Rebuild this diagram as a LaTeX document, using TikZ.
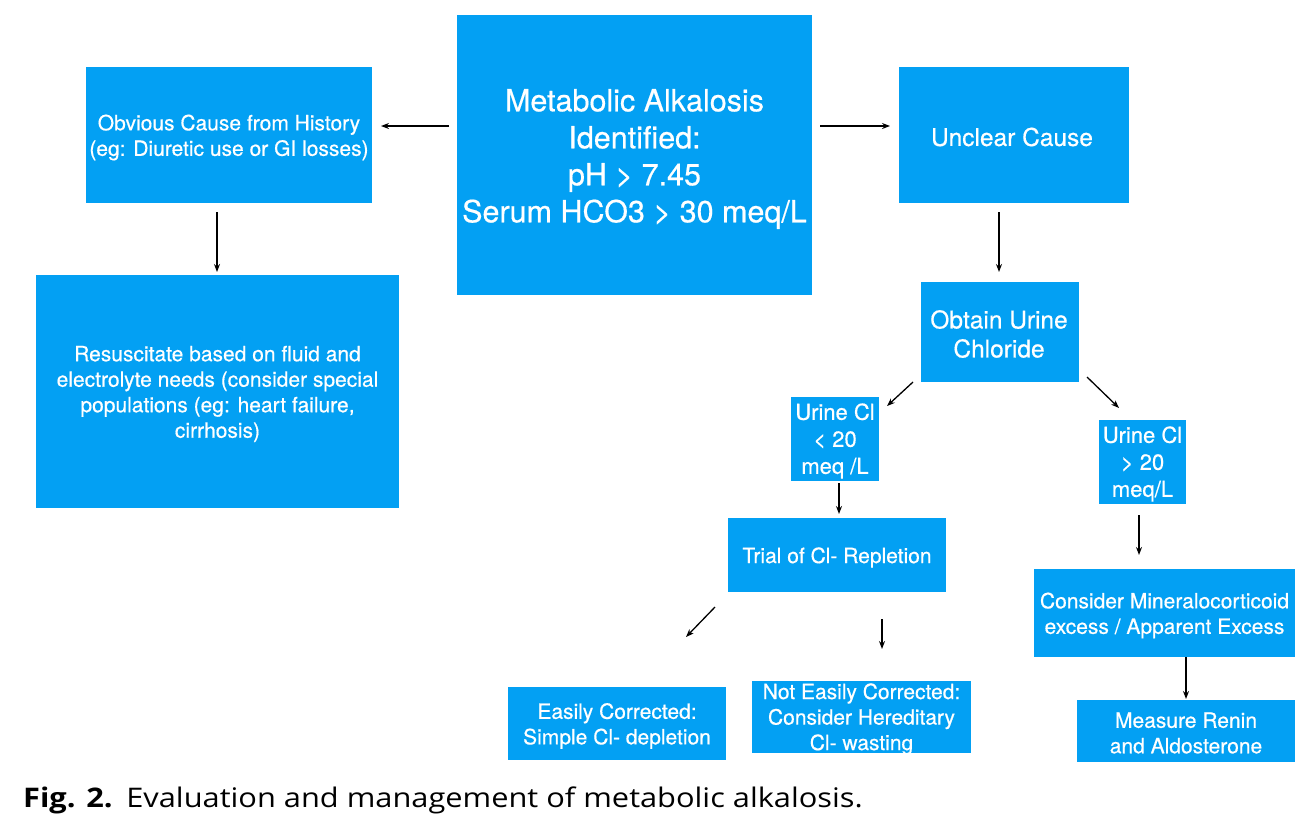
\documentclass[tikz,border=0pt]{standalone}
\usepackage{fontspec}
\setmainfont{TeX Gyre Heros}
\newfontfamily\boxfont{TeX Gyre Heros}[FakeBold=0.5]
\newfontfamily\capfont{Open Sans}
\usetikzlibrary{arrows.meta}
\definecolor{boxblue}{RGB}{3,160,243}
\tikzset{
  box/.style={fill=boxblue, draw=none, inner sep=0pt},
  txt/.style={text=white, align=center, inner sep=0pt},
  small/.style={font=\boxfont\fontsize{21}{25.5}\selectfont},
  mid/.style={font=\boxfont\fontsize{24.5}{29}\selectfont},
  cl/.style={font=\boxfont\fontsize{22}{27}\selectfont},
  big/.style={font=\boxfont\fontsize{30.5}{37}\selectfont},
  arr/.style={line width=1.3pt, -{Stealth[length=8pt,width=6pt]}}
}
\begin{document}
\begin{tikzpicture}[x=1pt,y=-1pt]
\useasboundingbox (0,0) rectangle (1313,831);
\node[box,minimum width=355pt,minimum height=280pt] (main) at (634.5,155) {};
\node[txt,big] (maint) at (634.5,159) {Metabolic Alkalosis\\Identified:\\pH > 7.45\\Serum HCO3 > 30 meq/L};
\node[box,minimum width=286pt,minimum height=136pt] (obv) at (229,135) {};
\node[txt,small] (obvt) at (229,137.5) {Obvious Cause from History\\(eg: Diuretic use or GI losses)};
\node[box,minimum width=363pt,minimum height=233pt] (res) at (217.5,391.5) {};
\node[txt,small] (rest) at (217.5,394) {Resuscitate based on fluid and\\electrolyte needs (consider special\\populations (eg: heart failure,\\cirrhosis)};
\node[box,minimum width=230pt,minimum height=136pt] (unc) at (1014,135) {};
\node[txt,mid] (unct) at (1012,137) {Unclear Cause};
\node[box,minimum width=158pt,minimum height=100pt] (obt) at (1000,332) {};
\node[txt,mid] (obtt) at (999,334) {Obtain Urine\\Chloride};
\node[box,minimum width=88pt,minimum height=84pt] (lt) at (835,439) {};
\node[txt,cl] (ltt) at (835,441) {Urine Cl\\< 20\\meq /L};
\node[box,minimum width=87pt,minimum height=84pt] (gt) at (1142.5,462) {};
\node[txt,cl] (gtt) at (1142.5,464) {Urine Cl\\> 20\\meq/L};
\node[box,minimum width=218pt,minimum height=74pt] (trial) at (837,555) {};
\node[txt,small] (trialt) at (837,557.5) {Trial of Cl- Repletion};
\node[box,minimum width=261pt,minimum height=88pt] (mine) at (1164.5,613) {};
\node[txt,small] (minet) at (1164.5,615.5) {Consider Mineralocorticoid\\excess / Apparent Excess};
\node[box,minimum width=218pt,minimum height=62pt] (renin) at (1186,731) {};
\node[txt,small] (renint) at (1186,733) {Measure Renin\\and Aldosterone};
\node[box,minimum width=218pt,minimum height=73pt] (easy) at (617,723.5) {};
\node[txt,small] (easyt) at (617,726) {Easily Corrected:\\Simple Cl- depletion};
\node[box,minimum width=219pt,minimum height=72pt] (noteasy) at (861.5,717) {};
\node[txt,small] (noteasyt) at (861.5,719) {Not Easily Corrected:\\Consider Hereditary\\Cl- wasting};
% arrow end points
\coordinate (a1s) at (449,126); \coordinate (a1e) at (381,126);
\coordinate (a2s) at (820,126); \coordinate (a2e) at (890,126);
\coordinate (a3s) at (217,212); \coordinate (a3e) at (217,272);
\coordinate (a4s) at (999,212); \coordinate (a4e) at (999,272);
\coordinate (a5s) at (913,382); \coordinate (a5e) at (887,406);
\coordinate (a6s) at (1087,377); \coordinate (a6e) at (1119,408);
\coordinate (a7s) at (839,483); \coordinate (a7e) at (839,514);
\coordinate (a8s) at (1139,515); \coordinate (a8e) at (1139,555);
\coordinate (a9s) at (1186,657); \coordinate (a9e) at (1186,699);
\coordinate (a10s) at (715,607); \coordinate (a10e) at (686,637);
\coordinate (a11s) at (882,619); \coordinate (a11e) at (882,649);
\foreach \i in {1,...,11} { \draw[arr] (a\i s) -- (a\i e); }
\node[anchor=base west, inner sep=0pt, font=\capfont\fontsize{27}{32}\selectfont] (cap) at (23,807) {\scalebox{1.14}[1]{\textbf{Fig. 2.}\hspace{12pt}Evaluation and management of metabolic alkalosis.}};
\end{tikzpicture}
\end{document}
